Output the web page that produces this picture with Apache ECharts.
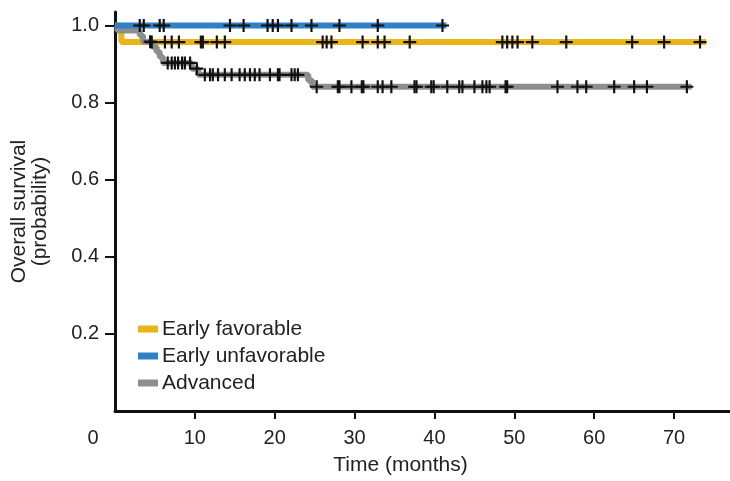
<!DOCTYPE html>
<html>
<head>
<meta charset="utf-8">
<script src="https://cdn.jsdelivr.net/npm/echarts@6/dist/echarts.min.js"></script>
<style>
html,body{margin:0;padding:0;background:#fff;}
#chart{width:730px;height:481px;}
</style>
</head>
<body>
<div id="chart"></div>
<script>
// ---- data ----
const seriesNames = ['Early favorable', 'Early unfavorable', 'Advanced'];
const xTickLabels = [0, 10, 20, 30, 40, 50, 60, 70];
const xTickMarks = [10, 20, 30, 40, 50, 60, 70];
const yTickLabels = [0.2, 0.4, 0.6, 0.8, 1.0];

// Early favorable: step times and survival after each step
const favTimes = [0, 0.8, 74];
const favSurv = [1.0, 0.957, 0.957];
const favCensor = [4.6, 6.25, 7.1, 8.0, 10.75, 11.0, 12.75, 13.75, 26, 26.5, 27.1, 31, 32.9, 33.75, 36.9,
  48.5, 49.1, 49.75, 50.4, 52.25, 56.5, 64.75, 68.75, 73.25];

// Early unfavorable
const unfTimes = [0, 41.5];
const unfSurv = [1.0, 1.0];
const unfCensor = [3.1, 3.6, 5.6, 6.1, 14.4, 16.1, 19.1, 19.75, 20.4, 22.1, 24.6, 28.1, 32.9, 41];

// Advanced
const advTimes = [0, 0.3, 3.1, 3.5, 4.7, 5.2, 5.6, 6.0, 9.6, 10.4, 24.2, 24.7, 72.2];
const advSurv = [1.0, 0.987, 0.974, 0.958, 0.945, 0.932, 0.918, 0.903, 0.888, 0.872, 0.857, 0.841, 0.841];
const advCensor = [4.4, 6.6, 7.1, 7.5, 7.9, 8.4, 8.75, 9.4, 10.25, 11.25, 11.9, 12.25, 12.9, 13.75, 14.6,
  15.6, 16.25, 16.9, 17.5, 18.1, 19.4, 20.4, 20.6, 22.1, 22.5, 22.9, 25.25, 27.9, 28.1, 29.6, 30.9, 31.1,
  32.9, 33.5, 34.6, 37.5, 37.75, 39.6, 39.9, 41.6, 43.1, 43.5, 45, 46, 46.5, 46.9, 48.9, 49.1, 55.4, 57.9,
  59, 62.5, 65, 66.6, 71.6];

// ---- helpers ----
function survAt(times, surv, t) {
  let s = surv[0];
  for (let i = 0; i < times.length; i++) { if (times[i] <= t) s = surv[i]; }
  return s;
}
function pairs(times, surv) { return times.map((t, i) => [t, surv[i]]); }
function censorPts(times, surv, cens) { return cens.map(t => [t, survAt(times, surv, t)]); }

const colors = { fav: '#E9B518', unf: '#2F80C4', adv: '#8E8E8E' };
const FONT = 'Liberation Sans, Arial, Helvetica, sans-serif';
const TXT = '#222';
const plus = 'path://M5,0H7V5H12V7H7V12H5V7H0V5H5Z';

const lineBase = { type: 'line', step: 'end', symbol: 'none', silent: true };
const censorBase = { type: 'scatter', symbol: plus, symbolSize: 13, silent: true, z: 5,
  itemStyle: { color: '#111', opacity: 1 } };

const chart = echarts.init(document.getElementById('chart'), null, { renderer: 'canvas' });
chart.setOption({
  animation: false,
  backgroundColor: '#fff',
  grid: { left: 115, right: 0, top: 12, bottom: 66, containLabel: false },
  legend: {
    data: seriesNames,
    orient: 'vertical',
    left: 138, top: 318, padding: 0,
    icon: 'rect', itemWidth: 20, itemHeight: 7, itemGap: 5,
    textStyle: { fontSize: 21, lineHeight: 22, color: TXT, fontFamily: FONT, padding: [0, 0, 0, -1] },
    selectedMode: false
  },
  xAxis: {
    type: 'value', min: 0, max: 77,
    name: 'Time (months)', nameLocation: 'middle', nameGap: 43,
    nameTextStyle: { fontSize: 21, lineHeight: 22, color: TXT, fontFamily: FONT, padding: [0, 44, 0, 0] },
    axisLine: { show: true, onZero: false, lineStyle: { color: '#111', width: 3 } },
    axisTick: { show: true, length: 8, customValues: xTickMarks, lineStyle: { color: '#111', width: 2 } },
    axisLabel: {
      customValues: xTickLabels, margin: 17, fontSize: 20, color: TXT, fontFamily: FONT,
      formatter: v => v === 0 ? '{z|0}' : String(v),
      rich: { z: { fontSize: 20, color: TXT, fontFamily: FONT, padding: [0, 44, 0, 0] } }
    },
    splitLine: { show: false }
  },
  yAxis: {
    type: 'value', min: 0, max: 1.035,
    name: 'Overall survival\n(probability)', nameLocation: 'middle', nameGap: 64,
    nameTextStyle: { fontSize: 21, lineHeight: 21, color: TXT, fontFamily: FONT },
    axisLine: { show: true, onZero: false, lineStyle: { color: '#111', width: 3 } },
    axisTick: { show: true, length: 10, customValues: yTickLabels, lineStyle: { color: '#111', width: 2 } },
    axisLabel: {
      customValues: yTickLabels, margin: 16, fontSize: 20, color: TXT, fontFamily: FONT,
      formatter: v => v.toFixed(1)
    },
    splitLine: { show: false }
  },
  series: [
    Object.assign({}, lineBase, { name: seriesNames[0], color: colors.fav, z: 2,
      lineStyle: { color: colors.fav, width: 6 }, data: pairs(favTimes, favSurv) }),
    Object.assign({}, lineBase, { name: seriesNames[2], color: colors.adv, z: 3,
      lineStyle: { color: colors.adv, width: 6 }, data: pairs(advTimes, advSurv) }),
    Object.assign({}, lineBase, { name: seriesNames[1], color: colors.unf, z: 4,
      lineStyle: { color: colors.unf, width: 6 }, data: pairs(unfTimes, unfSurv) }),
    Object.assign({}, censorBase, { name: 'fav-censor', data: censorPts(favTimes, favSurv, favCensor) }),
    Object.assign({}, censorBase, { name: 'adv-censor', data: censorPts(advTimes, advSurv, advCensor) }),
    Object.assign({}, censorBase, { name: 'unf-censor', data: censorPts(unfTimes, unfSurv, unfCensor) })
  ]
});
</script>
</body>
</html>
